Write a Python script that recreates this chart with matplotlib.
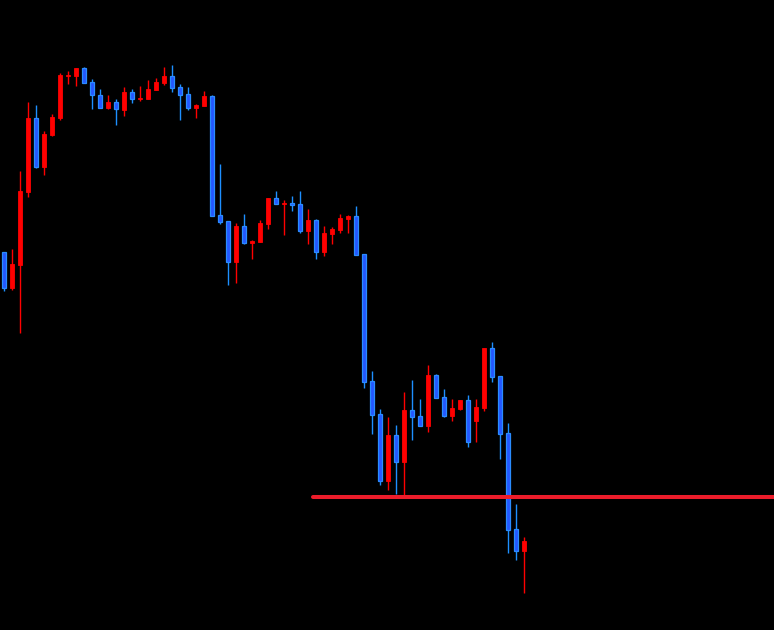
import matplotlib
matplotlib.use("Agg")
import matplotlib.pyplot as plt
import numpy as np

# OHLC prices (chart units; higher = up)
opens = [378, 342, 365, 438, 512, 463, 495, 512, 554, 554, 562, 548, 535, 522, 528, 520, 538, 531,
         531, 540, 547, 554, 543, 536, 522, 524, 534, 415, 409, 368, 404, 387, 388, 406, 432, 426,
         427, 426, 399, 410, 378, 396, 400, 411, 414, 376, 249, 216, 149, 195, 168, 220, 214, 204,
         255, 233, 214, 221, 230, 209, 222, 282, 254, 197, 101, 79]
highs = [378, 381, 459, 528, 525, 499, 516, 557, 559, 562, 563, 551, 541, 535, 531, 543, 541, 544,
         550, 552, 563, 565, 546, 543, 526, 539, 535, 466, 409, 407, 416, 390, 410, 432, 439, 430,
         434, 439, 421, 411, 404, 403, 416, 415, 424, 376, 259, 221, 213, 205, 238, 250, 231, 265,
         256, 241, 231, 230, 235, 231, 282, 288, 254, 207, 126, 93]
lows = [339, 340, 297, 433, 462, 455, 494, 510, 546, 544, 547, 521, 522, 521, 505, 514, 527, 529,
        531, 540, 545, 538, 510, 520, 512, 524, 414, 406, 345, 347, 386, 371, 388, 401, 426, 395,
        419, 397, 386, 371, 374, 386, 397, 397, 375, 242, 196, 145, 140, 136, 134, 190, 204, 198,
        232, 213, 209, 220, 183, 188, 219, 248, 171, 77, 70, 37]
closes = [342, 366, 439, 512, 463, 496, 513, 555, 555, 562, 547, 535, 522, 528, 521, 538, 531, 532,
          541, 548, 554, 542, 535, 522, 525, 534, 414, 408, 368, 404, 387, 389, 407, 432, 426, 427,
          425, 399, 410, 378, 397, 401, 412, 414, 375, 248, 215, 149, 195, 168, 220, 213, 204, 255,
          232, 214, 222, 230, 188, 223, 282, 253, 196, 100, 79, 89]
level = 133          # horizontal support level
level_start = 38.6   # bar index where the level line begins

n = len(opens)
idx = np.arange(n)
o = np.array(opens, float); c = np.array(closes, float)
h = np.array(highs, float); l = np.array(lows, float)
up = c >= o

RED = "#ff0000"
BLUE_FACE = "#2457ff"
BLUE_EDGE = "#2a8cff"
BLUE_WICK = "#1e8fff"

fig = plt.figure(figsize=(7.74, 6.30), dpi=100, facecolor="black")
ax = fig.add_axes([0, 0, 1, 1])
ax.set_facecolor("black")
ax.set_xlim(-0.5, 96.25)
ax.set_ylim(0, 630)
ax.axis("off")

# wicks
ax.vlines(idx[up], l[up], h[up], color=RED, linewidth=1.0, zorder=2)
ax.vlines(idx[~up], l[~up], h[~up], color=BLUE_WICK, linewidth=1.0, zorder=2)

# bodies
bottom = np.minimum(o, c)
height = np.maximum(np.abs(c - o), 1.5)
w = 0.62
ax.bar(idx[up], height[up], bottom=bottom[up], width=w, color=RED,
       edgecolor=RED, linewidth=0.6, zorder=3)
ax.bar(idx[~up], height[~up], bottom=bottom[~up], width=w, color=BLUE_FACE,
       edgecolor=BLUE_EDGE, linewidth=0.9, zorder=3)

# support line
ax.hlines(level, level_start, 96.25, color="#ec1c2a", linewidth=2.9, zorder=4,
          capstyle="round")

fig.savefig("out.png", dpi=100, facecolor="black")
